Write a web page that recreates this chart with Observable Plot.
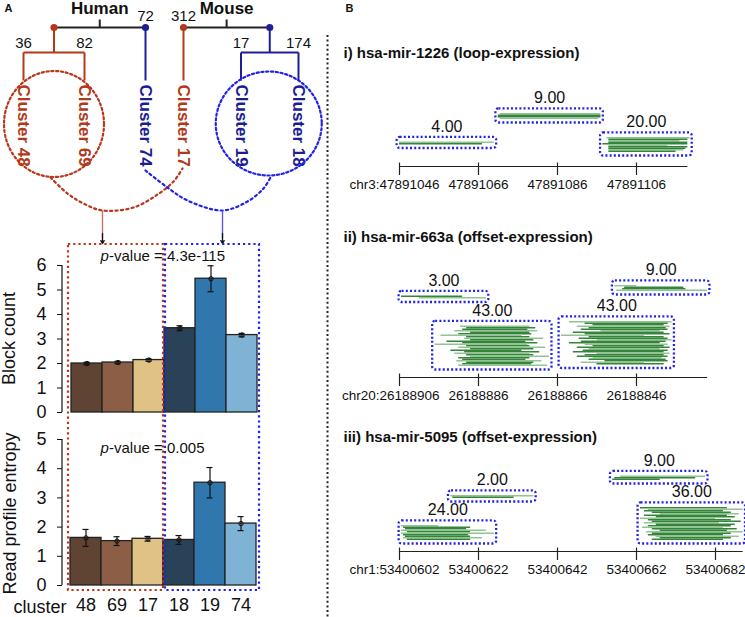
<!DOCTYPE html>
<html><head><meta charset="utf-8">
<script src="https://cdn.jsdelivr.net/npm/d3@7"></script>
<script src="https://cdn.jsdelivr.net/npm/@observablehq/plot@0.6"></script>
<style>
html,body{margin:0;padding:0;background:#fff;}
#page{position:relative;width:745px;height:617px;overflow:hidden;font-family:"Liberation Sans",Arial,Helvetica,sans-serif;}
#page > div{position:absolute;}
#page svg{display:block;overflow:visible;}
</style></head><body><div id="page"></div>
<script>
// ---------------- DATA ----------------
// Panel A: bar charts
const clusters = ["48","69","17","18","19","74"];
const clusterColors = ["#5f4333","#8c5e45","#e0c287","#2a4257","#2f77ad","#7fb3d5"];
const blockCount = [2.00, 2.04, 2.14, 3.44, 5.46, 3.16];
const blockCountErr = [0.05, 0.05, 0.05, 0.10, 0.53, 0.07];
const blockCountTicks = [0,1,2,3,4,5,6];
const blockCountP = "4.3e-115";
const entropy = [1.63, 1.52, 1.60, 1.56, 3.52, 2.12];
const entropyErr = [0.29, 0.15, 0.08, 0.15, 0.52, 0.24];
const entropyTicks = [0,1,2,3,4,5];
const entropyP = "0.005";

// Panel A: dendrograms
const humanLeaves = ["48","69","74"];
const humanLeafSize = [36, 82, 72];
const humanLeafGroup = ["red","red","blue"];
const mouseLeaves = ["17","19","18"];
const mouseLeafSize = [312, 17, 174];
const mouseLeafGroup = ["red","blue","blue"];

// Panel B: read tracks (offsets in bp from the first tick; reads listed top to bottom)
const miR1226 = {title:"i) hsa-mir-1226 (loop-expression)", chrom:"chr3", ref:47891046, strand:1};
const miR1226Ticks = [0,20,40,60];
const miR1226AxisEnd = 73;
const miR1226Labels = ["4.00","9.00","20.00"];
const miR1226Levels = [12, 29, 7];
const miR1226Reads = [
  [[0,24,"l"],[0,21,"d"]],
  [[25.5,51,"l"],[25,51,"d"],[25,51,"d"],[25.5,50.5,"l"]],
  [[52.5,73.5,"l"],[53,73,"d"],[53,71,"l"],[53,73,"d"],[51.5,73,"d"],[53,68,"l"],[53,73,"d"],[53,72.5,"d"],[53,72,"l"],[53,70,"d"]]
];

const miR663a = {title:"ii) hsa-mir-663a (offset-expression)", chrom:"chr20", ref:26188906, strand:-1};
const miR663aTicks = [0,20,40,60];
const miR663aAxisEnd = 78;
const miR663aLabels = ["3.00","9.00","43.00","43.00"];
const miR663aLevels = [50, 55, 5, 6];
const miR663aReads = [
  [[0.5,16,"d"],[5,22,"l"]],
  [[54.5,60,"l"],[57,72,"d"],[56.5,72.5,"d"],[55,78,"l"]],
  [[15.5,33,"l"],[17,34.5,"d"],[16,32.5,"d"],[14,35,"l"],[18,33,"d"],[15,33.5,"d"],[10.5,31,"l"],[17,33,"d"],[16.5,36.5,"l"],[18,34,"d"],[12,32,"d"],[16,35,"d"],[9,32.5,"l"],[17,33,"d"],[15,37,"l"],[18,34,"d"],[13,31,"d"],[16.5,35.5,"d"],[14,33,"l"],[17,34,"d"],[18,38,"l"],[15,33,"d"],[16,32,"d"],[14.5,36,"l"],[17,34,"d"],[16,33.5,"d"],[15,37.5,"l"]],
  [[43,69,"l"],[47,68,"d"],[49,67,"d"],[45,68.5,"l"],[48,67.5,"d"],[46,68,"d"],[51,66,"l"],[44,67,"d"],[47,68.5,"d"],[41,62,"l"],[48,67,"d"],[45.5,68,"d"],[50,69,"l"],[46,67.5,"d"],[43,66,"d"],[47,68,"l"],[49,67,"d"],[45,68.5,"d"],[48,66,"l"],[46.5,68,"d"],[44,67,"d"],[50,68.5,"l"],[47,67,"d"],[45,68,"d"],[49,66.5,"l"],[48,67.5,"d"],[52,68,"d"],[46,62,"l"],[50,67,"d"]]
];

const miR5095 = {title:"iii) hsa-mir-5095 (offset-expression)", chrom:"chr1", ref:53400602, strand:1};
const miR5095Ticks = [0,20,40,60,80];
const miR5095AxisEnd = 87;
const miR5095Labels = ["24.00","2.00","9.00","36.00"];
const miR5095Levels = [5, 33, 45, 5];
const miR5095Reads = [
  [[0.5,10,"l"],[1,18,"d"],[1.5,17,"d"],[0.5,22,"l"],[2,18,"d"],[0.5,24,"l"],[1,17.5,"d"],[1.5,18,"d"],[1,21,"l"],[2,18,"d"]],
  [[13,34,"l"],[13.5,29,"d"]],
  [[56,77.5,"l"],[54.5,75,"d"],[54,66,"d"]],
  [[61,83,"d"],[63,87,"l"],[62,82,"d"],[64,84,"d"],[66,86,"l"],[62,83,"d"],[65,85,"d"],[61,80,"l"],[63,84,"d"],[64,86.5,"d"],[62,81,"l"],[65,85,"d"],[63,84,"d"],[61.5,82,"l"],[64,85.5,"d"],[66,83,"d"],[62.5,87,"l"],[64,84,"d"],[63,82,"d"],[65,86,"l"],[66,84,"d"],[64,82,"d"]]
];

// ---------------- STYLE / LAYOUT ----------------
const FONT = '"Liberation Sans", Arial, Helvetica, sans-serif';
const RED = "#b5381b", BLUE = "#1e1e9a";
const RED_DOT = "#b8361a", BLUE_DOT = "#2222e6";
const READ_DARK = "#34843a", READ_LIGHT = "#93c493";
const page = document.getElementById("page");
function place(node, left, top, w, h, top_) {
  const d = document.createElement("div");
  d.style.left = left + "px"; d.style.top = top + "px";
  d.style.width = w + "px"; d.style.height = h + "px";
  if (top_) d.style.pointerEvents = "none";
  d.appendChild(node); page.appendChild(d);
}

// ---------------- BAR CHARTS ----------------
function barChart(vals, errs, ticks, o) {
  const data = clusters.map((c, i) => ({cluster: c, v: vals[i], e: errs[i], color: clusterColors[i]}));
  const yMax = ticks[ticks.length - 1];
  const axisLine = (index, scales, values, dims) => {
    const l = document.createElementNS("http://www.w3.org/2000/svg", "line");
    l.setAttribute("x1", dims.marginLeft); l.setAttribute("x2", dims.marginLeft);
    l.setAttribute("y1", scales.y(0)); l.setAttribute("y2", scales.y(yMax));
    l.setAttribute("stroke", "#222"); l.setAttribute("stroke-width", 1.3);
    return l;
  };
  return Plot.plot({
    width: 262, height: o.height,
    marginLeft: 62, marginRight: o.mr, marginTop: o.mt, marginBottom: o.mb,
    style: {background: "transparent", fontSize: "18px", fontFamily: FONT, color: "#111"},
    x: {type: "band", domain: clusters, padding: 0, insetLeft: o.inset, axis: null},
    y: {domain: [0, yMax]},
    marks: [
      Plot.barY(data, {x: "cluster", y: "v", fill: "color", stroke: "#222", strokeWidth: 1.3}),
      Plot.ruleX(data, {x: "cluster", y1: d => d.v - d.e, y2: d => d.v + d.e, stroke: "#111", strokeWidth: 1.2}),
      Plot.tickY(data, {x: "cluster", y: d => d.v - d.e, insetLeft: 12.5, insetRight: 12.5, stroke: "#111", strokeWidth: 1.2}),
      Plot.tickY(data, {x: "cluster", y: d => d.v + d.e, insetLeft: 12.5, insetRight: 12.5, stroke: "#111", strokeWidth: 1.2}),
      Plot.dot(data, {x: "cluster", y: "v", r: 2.2, stroke: "#111", strokeWidth: 1}),
      axisLine,
      Plot.axisY({ticks: ticks, tickSize: 5, tickPadding: 11, label: null, tickFormat: d3.format("d")}),
      o.xaxis ? Plot.axisX({tickSize: 0, tickPadding: 13, label: null}) : null
    ]
  });
}
const chart1 = barChart(blockCount, blockCountErr, blockCountTicks, {height: 185, mt: 25, mb: 13, mr: 3, inset: 7, xaxis: false});
place(chart1, 0, 240, 262, 185);
const chart2 = barChart(entropy, entropyErr, entropyTicks, {height: 192, mt: 14, mb: 32, mr: 4, inset: 6, xaxis: true});
place(chart2, 0, 425, 262, 192);

// ---------------- READ TRACKS ----------------
function track(t, ticks, axisEnd, labels, levels, reads, top, height, axisPx) {
  const pad = 2.7;
  const rects = [], rd = [], lab = [];
  labels.forEach((text, b) => {
    const rs = reads[b], n = rs.length, lvl = levels[b];
    const xs = rs.flatMap(r => [r[0], r[1]]);
    const x1 = d3.min(xs) - 0.6, x2 = d3.max(xs) + 0.6;
    const y1 = lvl, y2 = lvl + n + 2 * pad;
    rects.push({x1, x2, y1, y2});
    lab.push({x: (x1 + x2) / 2, y: y2, text});
    rs.forEach((r, i) => rd.push({x1: r[0], x2: r[1], y: lvl + pad + (n - 1 - i) + 0.5, shade: r[2]}));
  });
  const pos = off => t.ref + t.strand * off;
  const svg = Plot.plot({
    width: 415, height, margin: 0,
    style: {background: "transparent", fontFamily: FONT, fontSize: "13.5px", color: "#111"},
    x: {domain: [0, 60], range: [69, 69 + 237], axis: null},
    y: {domain: [0, 100], range: [axisPx, axisPx - 150], axis: null},
    marks: [
      Plot.ruleY(rd, {x1: "x1", x2: "x2", y: "y", stroke: d => d.shade === "d" ? READ_DARK : READ_LIGHT, strokeWidth: 1.4}),
      Plot.rect(rects, {x1: "x1", x2: "x2", y1: "y1", y2: "y2", fill: "none", stroke: BLUE_DOT, strokeWidth: 2.3, strokeDasharray: "2,2.2", rx: 3}),
      Plot.text(lab, {x: "x", y: "y", text: "text", dy: -11, fontSize: 16, fill: "#111"}),
      Plot.ruleY([0], {x1: 0, x2: axisEnd, stroke: "#222", strokeWidth: 1.2}),
      Plot.ruleX(ticks, {x: d => d, y1: -6, y2: 2.3, stroke: "#222", strokeWidth: 1.2}),
      Plot.text(ticks.slice(0, 1), {x: d => d, y: 0, dy: 18.5, dx: 40, textAnchor: "end", text: d => t.chrom + ":" + pos(d)}),
      Plot.text(ticks.slice(1), {x: d => d, y: 0, dy: 18.5, text: d => String(pos(d))})
    ]
  });
  place(svg, 330, top, 415, height);
}
track(miR1226, miR1226Ticks, miR1226AxisEnd, miR1226Labels, miR1226Levels, miR1226Reads, 30, 170, 136);
track(miR663a, miR663aTicks, miR663aAxisEnd, miR663aLabels, miR663aLevels, miR663aReads, 200, 205, 177);
track(miR5095, miR5095Ticks, miR5095AxisEnd, miR5095Labels, miR5095Levels, miR5095Reads, 405, 200, 146);

// ---------------- OVERLAY (dendrogram, annotations) ----------------
const yRoot = 27, yPair = 52, yLeaf = 80, yTickTop = 19;
const segs = [], nodes = [], sizeLabels = [], clusterLabels = [], species = [];
function buildTree(name, leaves, sizes, groups, x0, step) {
  const lx = leaves.map((_, i) => x0 + step * i);
  const gNames = [...new Set(groups)];
  const nodeX = [];
  gNames.forEach(g => {
    const idx = leaves.map((_, i) => i).filter(i => groups[i] === g);
    const col = g === "red" ? RED : BLUE;
    if (idx.length === 1) {
      const x = lx[idx[0]];
      nodeX.push(x);
      segs.push({x1: x, y1: yRoot, x2: x, y2: yLeaf, stroke: col});
      sizeLabels.push({x: x, y: yRoot - 11, text: String(sizes[idx[0]])});
    } else {
      const xa = lx[idx[0]], xb = lx[idx[idx.length - 1]], xm = (xa + xb) / 2;
      nodeX.push(xm);
      segs.push({x1: xm, y1: yRoot, x2: xm, y2: yPair, stroke: col});
      segs.push({x1: xa, y1: yPair, x2: xb, y2: yPair, stroke: col});
      idx.forEach(i => {
        segs.push({x1: lx[i], y1: yPair, x2: lx[i], y2: yLeaf, stroke: col});
        sizeLabels.push({x: lx[i], y: yPair - 9, text: String(sizes[i])});
      });
    }
    nodes.push({x: nodeX[nodeX.length - 1], y: yRoot, fill: col});
    idx.forEach(i => clusterLabels.push({x: lx[i], text: "Cluster " + leaves[i], fill: g === "red" ? "#b03a1c" : "#1c1c94"}));
  });
  const mid = (nodeX[0] + nodeX[1]) / 2;
  segs.unshift({x1: nodeX[0], y1: yRoot, x2: nodeX[1], y2: yRoot, stroke: "#222"});
  segs.unshift({x1: mid, y1: yRoot, x2: mid, y2: yTickTop, stroke: "#222"});
  species.push({x: mid, y: 8, text: name});
  return {lx, nodeX};
}
const hT = buildTree("Human", humanLeaves, humanLeafSize, humanLeafGroup, 23, 61);
const mT = buildTree("Mouse", mouseLeaves, mouseLeafSize, mouseLeafGroup, 183, 57.5);

function ellipse(cx, cy, rx, ry) {
  return d3.range(0, 361, 2).map(a => ({x: cx + rx * Math.cos(a * Math.PI / 180), y: cy + ry * Math.sin(a * Math.PI / 180)}));
}
const redEllipse = ellipse(hT.nodeX[0], 123.5, 50, 53);
const blueEllipse = ellipse(mT.nodeX[1] - 1, 123, 53, 52);
const redCurve = [{x:50,y:177},{x:67,y:193},{x:83,y:203},{x:102,y:210},{x:133,y:207},{x:157,y:194},{x:173,y:181},{x:182,y:168}];
const blueCurve = [{x:145,y:170},{x:167,y:187},{x:187,y:200},{x:222,y:210},{x:247,y:201},{x:263,y:188},{x:270,y:177}];

const sx1 = chart1.scale("x");
const bLeft = c => sx1.apply(c);
const bw = sx1.bandwidth;
const groupTop = 244, groupBottom = 590;
const redBox = [{x1: bLeft(clusters[0]) - 3, x2: bLeft(clusters[3]) - 1, y1: groupTop, y2: groupBottom}];
const blueBox = [{x1: bLeft(clusters[3]) + 1, x2: bLeft(clusters[5]) + bw + 2, y1: groupTop, y2: groupBottom}];

const overlay = Plot.plot({
  width: 745, height: 617, margin: 0,
  style: {background: "transparent", fontFamily: FONT, color: "#111", fontSize: "15px"},
  x: {domain: [0, 745], range: [0, 745], axis: null},
  y: {domain: [0, 617], range: [0, 617], axis: null},
  marks: [
    // dendrogram
    Plot.link(segs, {x1: "x1", y1: "y1", x2: "x2", y2: "y2", stroke: "stroke", strokeWidth: 2}),
    Plot.dot(nodes, {x: "x", y: "y", fill: "fill", r: 3.6}),
    Plot.text(sizeLabels, {x: "x", y: "y", text: "text", fontSize: 15, fill: "#111"}),
    Plot.text(species, {x: "x", y: "y", text: "text", fontSize: 17, fontWeight: "bold", fill: "#111"}),
    Plot.text(clusterLabels, {x: "x", y: 84, text: "text", rotate: 90, textAnchor: "start", fill: "fill", fontSize: 17, fontWeight: "bold"}),
    // dotted groupings
    Plot.line(redEllipse, {x: "x", y: "y", stroke: RED_DOT, strokeWidth: 2.2, strokeDasharray: "2.2,2.6"}),
    Plot.line(blueEllipse, {x: "x", y: "y", stroke: BLUE_DOT, strokeWidth: 2.2, strokeDasharray: "2.2,2.6"}),
    Plot.line(redCurve, {x: "x", y: "y", curve: "catmull-rom", stroke: RED_DOT, strokeWidth: 2.2, strokeDasharray: "2.2,3.2"}),
    Plot.line(blueCurve, {x: "x", y: "y", curve: "catmull-rom", stroke: BLUE_DOT, strokeWidth: 2.2, strokeDasharray: "2.2,3.2"}),
    Plot.link([{x: 102, c: "#c8735e"}, {x: 222, c: "#5a5ae6"}], {x1: "x", x2: "x", y1: 210, y2: 238, stroke: "c", strokeWidth: 1.4}),
    Plot.arrow([{x: 102}, {x: 222}], {x1: "x", x2: "x", y1: 233, y2: 243, stroke: "#111", strokeWidth: 1.3, headLength: 7}),
    Plot.rect(redBox, {x1: "x1", x2: "x2", y1: "y1", y2: "y2", fill: "none", stroke: RED_DOT, strokeWidth: 2.2, strokeDasharray: "2.2,3"}),
    Plot.rect(blueBox, {x1: "x1", x2: "x2", y1: "y1", y2: "y2", fill: "none", stroke: BLUE_DOT, strokeWidth: 2.2, strokeDasharray: "2.2,3"}),
    // panel divider
    Plot.ruleX([327], {y1: 35, y2: 617, stroke: "#222", strokeWidth: 2, strokeDasharray: "2,2.6"}),
    // axis titles and annotations
    Plot.text(["Block count"], {x: 9, y: 338, text: d => d, rotate: -90, fontSize: 18, fill: "#111"}),
    Plot.text(["Read profile entropy"], {x: 10, y: 513, text: d => d, rotate: -90, fontSize: 18, fill: "#111"}),
    Plot.text(["p"], {x: 100, y: 256, text: d => d, fontStyle: "italic", textAnchor: "start", fontSize: 15, fill: "#111"}),
    Plot.text(["-value = " + blockCountP], {x: 108.5, y: 256, text: d => d, textAnchor: "start", fontSize: 15, fill: "#111"}),
    Plot.text(["p"], {x: 100, y: 448, text: d => d, fontStyle: "italic", textAnchor: "start", fontSize: 15, fill: "#111"}),
    Plot.text(["-value = " + entropyP], {x: 108.5, y: 448, text: d => d, textAnchor: "start", fontSize: 15, fill: "#111"}),
    Plot.text(["cluster"], {x: 66, y: 607, text: d => d, textAnchor: "end", fontSize: 18, fill: "#111"}),
    Plot.text(["A"], {x: 4, y: 8, text: d => d, textAnchor: "start", fontSize: 11, fontWeight: "bold", fill: "#111"}),
    Plot.text(["B"], {x: 345, y: 8, text: d => d, textAnchor: "start", fontSize: 11, fontWeight: "bold", fill: "#111"}),
    Plot.text([miR1226.title, miR663a.title, miR5095.title], {x: 343, y: (d, i) => [53, 237, 437][i], text: d => d, textAnchor: "start", fontSize: 15, fontWeight: "bold", fill: "#111"})
  ]
});
place(overlay, 0, 0, 745, 617, true);
</script></body></html>
